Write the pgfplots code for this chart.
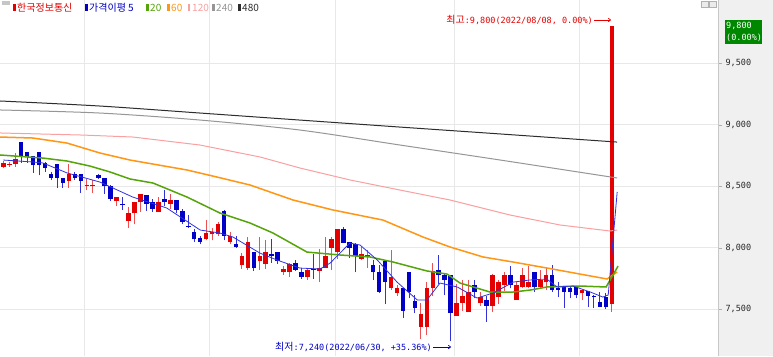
\documentclass[border=0pt]{standalone}
\usepackage{pgfplots}
\pgfplotsset{compat=1.18}
\usepackage{pgfplotstable}
\usepackage{fontspec}
\usetikzlibrary{arrows.meta}
\setmainfont{Noto Sans CJK KR}
\newfontfamily\monof{DejaVu Sans Mono}
\definecolor{cred}{RGB}{228,0,0}
\definecolor{cblue}{RGB}{0,0,200}
\definecolor{wred}{RGB}{236,80,80}
\definecolor{wblue}{RGB}{50,50,215}
\definecolor{ma5}{RGB}{50,50,225}
\definecolor{ma20}{RGB}{85,165,10}
\definecolor{ma60}{RGB}{255,150,20}
\definecolor{ma120}{RGB}{250,160,160}
\definecolor{ma240}{RGB}{150,150,150}
\definecolor{ma480}{RGB}{45,45,45}
\definecolor{gridc}{RGB}{232,232,232}
\definecolor{panel}{RGB}{240,240,240}
\definecolor{boxg}{RGB}{0,135,0}

% red (up) candles: index open high low close
\pgfplotstableread{
i o h l c
0 8660 8710 8650 8690
1 8670 8700 8660 8680
2 8680 8770 8660 8720
11 8540 8680 8490 8600
14 8500 8560 8470 8510
15 8500 8550 8450 8510
19 8380 8410 8340 8410
21 8220 8330 8160 8280
22 8280 8370 8190 8370
23 8370 8440 8290 8440
26 8290 8410 8290 8370
28 8360 8440 8320 8390
34 8070 8230 8060 8120
35 8110 8160 8060 8130
36 8110 8210 8100 8190
38 8050 8130 8030 8100
40 7860 7960 7830 7930
41 7840 8090 7820 8050
43 7890 8090 7820 7930
44 7870 8060 7830 7970
47 7800 7850 7780 7830
48 7800 7880 7760 7870
51 7760 7840 7740 7820
53 7810 7990 7720 7840
54 7840 8090 7840 7930
55 8000 8090 7820 8070
56 7970 8150 7910 8150
60 7910 8010 7900 7950
61 7930 7980 7840 7940
65 7670 7980 7660 7760
66 7630 7700 7610 7670
70 7360 7550 7260 7460
71 7360 7720 7290 7670
72 7670 7880 7610 7810
76 7450 7710 7450 7550
77 7550 7740 7490 7610
78 7480 7740 7480 7640
80 7550 7640 7530 7600
82 7530 7790 7480 7780
83 7600 7740 7540 7720
84 7700 7800 7650 7780
86 7580 7720 7580 7700
87 7680 7840 7670 7780
88 7680 7850 7670 7720
90 7680 7820 7670 7740
91 7720 7840 7660 7780
97 7630 7660 7580 7660
102 7540 9800 7480 9800
}\redtab

% blue (down) candles: index open high low close
\pgfplotstableread{
i o h l c
3 8860 8860 8690 8740
4 8780 8780 8690 8740
5 8750 8750 8610 8670
6 8780 8780 8590 8670
7 8690 8700 8620 8650
8 8600 8620 8550 8570
9 8680 8680 8490 8570
10 8570 8570 8490 8530
12 8600 8620 8550 8570
13 8600 8600 8450 8540
16 8590 8600 8560 8570
17 8570 8570 8440 8500
18 8500 8510 8380 8400
20 8360 8410 8310 8350
24 8430 8430 8300 8360
25 8370 8400 8290 8320
27 8400 8470 8340 8370
29 8390 8390 8280 8310
30 8300 8320 8190 8210
31 8180 8270 8160 8170
32 8130 8150 8050 8070
33 8080 8100 8030 8050
37 8300 8310 8060 8100
39 8030 8100 8000 8010
42 7970 7970 7810 7840
45 7950 8070 7880 7930
46 7970 7970 7870 7890
49 7880 7900 7810 7820
50 7800 7840 7750 7760
52 7830 7950 7750 7820
57 8150 8170 8040 8040
58 8050 8050 7920 8000
59 8030 8040 7800 7930
62 7860 7900 7740 7800
63 7800 7860 7630 7640
64 7890 7890 7540 7720
67 7670 7670 7430 7490
68 7800 7800 7590 7640
69 7570 7620 7470 7510
73 7820 7940 7710 7780
74 7780 7790 7620 7740
75 7780 7780 7240 7470
79 7700 7740 7590 7640
81 7580 7610 7400 7530
85 7780 7850 7670 7700
89 7800 7800 7640 7680
92 7780 7860 7640 7660
93 7670 7720 7600 7660
94 7680 7690 7510 7640
95 7670 7680 7590 7640
96 7680 7680 7590 7620
98 7650 7650 7520 7610
99 7610 7620 7510 7600
100 7560 7640 7520 7520
101 7600 7630 7500 7520
}\bluetab

\begin{document}
\begin{tikzpicture}[x=1pt,y=1pt]
\fill[white] (0,0) rectangle (773,356);
\fill[panel] (718,0) rectangle (773,356);
\begin{axis}[at={(0,0)}, anchor=south west, scale only axis,
  width=718pt, height=356pt,
  xmin=-0.55, xmax=119.8, ymin=7121, ymax=10015,
  axis x line*=bottom, axis y line*=right,
  x axis line style={draw=none},
  y axis line style={draw={rgb,255:red,200;green,200;blue,200}},
  xtick={13.6,34.5,55.6,75.6,96.6}, xticklabels={}, xmajorgrids,
  xtick style={draw=none},
  ytick={7500,8000,8500,9000,9500}, ymajorgrids,
  scaled y ticks=false,
  grid style={draw=gridc, line width=0.8pt},
  tick align=outside, major tick length=4pt,
  ytick style={draw={rgb,255:red,175;green,175;blue,175}},
  yticklabel style={font=\monof\fontsize{8.5}{10}\selectfont, text=black!85},
  /pgf/number format/1000 sep={,},
  /pgf/number format/assume math mode=true,
]
% wicks
\addplot[draw=none, mark=none, forget plot,
  error bars/.cd, y dir=plus, y explicit, error mark=none,
  error bar style={draw=wred, line width=0.9pt}]
  table[x=i, y=l, y error plus expr=\thisrow{h}-\thisrow{l}] {\redtab};
\addplot[draw=none, mark=none, forget plot,
  error bars/.cd, y dir=plus, y explicit, error mark=none,
  error bar style={draw=wblue, line width=0.9pt}]
  table[x=i, y=l, y error plus expr=\thisrow{h}-\thisrow{l}] {\bluetab};
% bodies
\addplot[draw=none, mark=none, forget plot,
  error bars/.cd, y dir=plus, y explicit, error mark=none,
  error bar style={draw=cred, line width=4.6pt}]
  table[x=i, y=o, y error plus expr=\thisrow{c}-\thisrow{o}] {\redtab};
\addplot[draw=none, mark=none, forget plot,
  error bars/.cd, y dir=plus, y explicit, error mark=none,
  error bar style={draw=cblue, line width=4.6pt}]
  table[x=i, y=c, y error plus expr=\thisrow{o}-\thisrow{c}] {\bluetab};
% moving averages
\addplot[ma480, line width=1pt, smooth] coordinates {(-0.55,9194) (16.2,9153) (33,9096) (49.7,9039) (66.5,8982) (83.3,8926) (102.9,8860)};
\addplot[ma240, line width=1pt, smooth] coordinates {(-0.55,9121) (16.2,9096) (33,9039) (49.7,8958) (66.5,8836) (83.3,8714) (102.9,8568)};
\addplot[ma120, line width=1pt] coordinates {(-0.55,8934) (13.36,8917) (21.74,8901) (32.97,8836) (43.03,8739) (49.74,8649) (58.12,8552) (66.5,8470) (74.89,8389) (84.95,8267) (93.33,8186) (101.7,8137) (102.9,8145)};
\addplot[ma60, line width=1.5pt] coordinates {(-0.55,8901) (4.98,8893) (10.68,8852) (16.21,8771) (21.24,8714) (30.8,8633) (35.8,8576) (41.36,8511) (48.57,8389) (55.27,8308) (63.65,8226) (70.36,8088) (74.89,8007) (80.42,7926) (85.45,7885) (91.15,7836) (96.68,7787) (101.2,7747) (102.9,7804)};
\addplot[ma20, line width=1.5pt] coordinates {(-0.55,8755) (6.66,8730) (10.68,8706) (14.53,8665) (17.89,8617) (21.24,8560) (25.1,8527) (30.8,8413) (36.33,8283) (41.36,8202) (45.2,8121) (50.9,7966) (56.45,7942) (61.48,7926) (65.33,7885) (71.03,7812) (74.4,7787) (76.56,7714) (81.6,7641) (85.45,7641) (88.3,7657) (91.15,7682) (96.68,7690) (101.04,7682) (103.05,7852)};
\addplot[ma5, line width=0.8pt] coordinates {(0,8714) (5,8698) (6.65,8690) (10.7,8609) (16.2,8535) (21.7,8413) (27.4,8324) (33,8145) (36.3,8121) (38.5,8088) (43,7958) (45.9,7901) (49.7,7836) (53.1,7828) (54.8,7877) (58.1,8039) (59.8,8023) (62.7,7901) (66,7722) (69.4,7576) (71,7576) (73.2,7714) (76.1,7682) (79.4,7592) (82.1,7633) (85.5,7722) (88.3,7739) (91.1,7747) (92.8,7682) (95.5,7690) (98.4,7641) (100.5,7600) (101.4,7617) (102.9,8455)};
\end{axis}
% legend
\fill[gray!45] (1.7,351) rectangle (10,355);
\begin{scope}[every node/.style={anchor=west, inner sep=0pt, font=\fontsize{10}{12}\selectfont}]
\fill[cred] (13,345) rectangle (15.5,352);
\node[text=cred] at (17,348.5) {한국정보통신};
\fill[cblue] (85,345) rectangle (87.5,352);
\node[text=cblue] at (89,348.5) {가격이평 5};
\fill[ma20] (146,345) rectangle (148.5,352);
\node[text=ma20] at (150,348.5) {20};
\fill[ma60] (167,345) rectangle (169.5,352);
\node[text=ma60] at (171,348.5) {60};
\fill[ma120] (187.5,345) rectangle (190,352);
\node[text=ma120] at (192,348.5) {120};
\fill[ma240] (212,345) rectangle (214.5,352);
\node[text=ma240] at (216,348.5) {240};
\fill[ma480] (238,345) rectangle (240.5,352);
\node[text=ma480] at (242,348.5) {480};
\end{scope}
% high / low annotations
\node[anchor=east, inner sep=0pt, text=cred, font=\fontsize{10}{12}\selectfont] at (593,336) {최고{\monof\fontsize{8.5}{10}\selectfont :9,800(2022/08/08, 0.00\%)}};
\draw[cred, line width=0.7pt, -{To[length=3pt,width=4pt]}] (594,336) -- (611,336);
\node[anchor=east, inner sep=0pt, text=cblue, font=\fontsize{10}{12}\selectfont] at (432,9) {최저{\monof\fontsize{8.5}{10}\selectfont :7,240(2022/06/30, +35.36\%)}};
\draw[cblue, line width=0.7pt, -{To[length=3pt,width=4pt]}] (433,9) -- (451,9);
% current price box
\fill[boxg] (725,312) rectangle (762,336);
\node[anchor=west, inner sep=0pt, text=white, font=\monof\fontsize{8.5}{10}\selectfont] at (726,330) {9,800};
\node[anchor=west, inner sep=0pt, text=white, font=\monof\fontsize{8.5}{10}\selectfont] at (726,318) {(0.00\%)};
% window icons
\draw[gray!60, fill=gray!15, line width=0.5pt] (701,349) rectangle (708,355);
\draw[gray!60, fill=gray!15, line width=0.5pt] (709.5,349) rectangle (716,355);
\pgfresetboundingbox
\path (0,0) rectangle (773,356);
\end{tikzpicture}
\end{document}
